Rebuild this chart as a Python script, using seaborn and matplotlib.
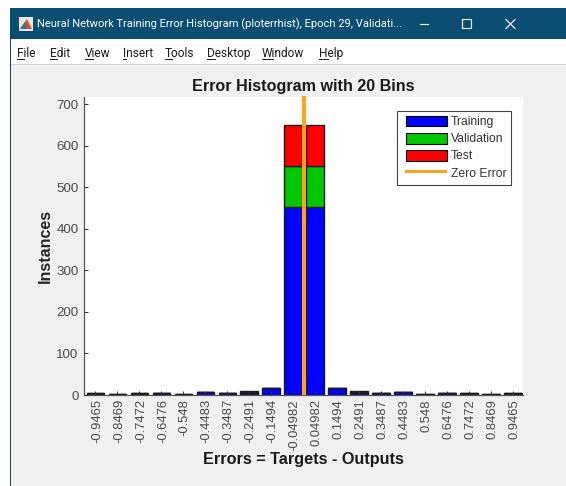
import numpy as np
import pandas as pd
import matplotlib as mpl
import matplotlib.pyplot as plt
from matplotlib.patches import Rectangle, Polygon
from matplotlib.legend_handler import HandlerPatch
from matplotlib.transforms import ScaledTranslation
import seaborn as sns

tick_labels = ['-0.9465', '-0.8469', '-0.7472', '-0.6476', '-0.548', '-0.4483', '-0.3487',
               '-0.2491', '-0.1494', '-0.04982', '0.04982', '0.1494', '0.2491', '0.3487',
               '0.4483', '0.548', '0.6476', '0.7472', '0.8469', '0.9465']
training = [3, 1, 3, 5, 1, 8, 6, 4, 18, 452, 452, 18, 4, 6, 8, 1, 5, 3, 1, 3]
validation = [2, 1, 2, 0, 1, 0, 0, 3, 0, 98, 98, 0, 3, 0, 0, 1, 0, 2, 1, 2]
test = [1, 0, 1, 0, 0, 0, 0, 3, 0, 100, 100, 0, 3, 0, 0, 0, 0, 1, 0, 1]
yticks = [0, 100, 200, 300, 400, 500, 600, 700]
menu_items = ['File', 'Edit', 'View', 'Insert', 'Tools', 'Desktop', 'Window', 'Help']
menu_x = [17, 50, 85, 123, 165, 207, 262, 319]

W, H = 566, 486
plt.rcParams['font.family'] = ['Liberation Sans', 'DejaVu Sans']
gray = '#4a4a4a'
orange = '#ffa31a'

fig = plt.figure(figsize=(W / 100, H / 100), dpi=100, facecolor='white')

# window chrome, in pixel coordinates
bg = fig.add_axes([0, 0, 1, 1], zorder=0)
bg.set_xlim(0, W)
bg.set_ylim(H, 0)
bg.axis('off')
bg.add_patch(Rectangle((10, 65), W - 10, H - 65, color='#f0f0f0', lw=0))
bg.add_patch(Rectangle((10, 8), W - 10, 31.5, color='#0a4f72', lw=0))
bg.add_patch(Rectangle((10, 64), W - 10, 1.2, color='#d4d4d4', lw=0))
bg.add_patch(Rectangle((10, 8), 1, H - 8, color='#0a4f72', lw=0))
bg.add_patch(Rectangle((19, 17), 14, 14, color='#e8e8e8', lw=0))
bg.add_patch(Polygon([[20, 29], [27, 19], [32, 29]], color='#d9541e', lw=0))
bg.add_patch(Polygon([[20, 29], [25, 22], [27, 29]], color='#3a6ea5', lw=0))
bg.text(37, 24, 'Neural Network Training Error Histogram (ploterrhist), Epoch 29, Validati...',
        color='white', fontsize=8.0, family='Roboto', va='center', ha='left')
bg.plot([420, 428], [24, 24], color='white', lw=0.8)
bg.add_patch(Rectangle((462, 19.5), 9, 9, fill=False, ec='white', lw=0.8))
bg.plot([506, 515], [19.5, 28.5], color='white', lw=0.8)
bg.plot([506, 515], [28.5, 19.5], color='white', lw=0.8)
renderer = fig.canvas.get_renderer()
for name, mx in zip(menu_items, menu_x):
    first = bg.text(mx, 57, name[0], fontsize=8.6, family='Roboto')
    w0 = first.get_window_extent(renderer).width
    first.remove()
    bg.text(mx, 57, name, color='#1a1a1a', fontsize=8.6, family='Roboto', va='baseline', ha='left')
    bg.plot([mx, mx + w0], [59.5, 59.5], color='#1a1a1a', lw=0.7)

# histogram axes
ax = fig.add_axes([84 / W, 1 - 395 / H, (523 - 84) / W, (395 - 97) / H], zorder=1)
df = pd.DataFrame({
    'bin': np.tile(np.arange(len(tick_labels)), 3),
    'count': training + validation + test,
    'split': ['Training'] * 20 + ['Validation'] * 20 + ['Test'] * 20,
})
colors = {'Training': '#0000ff', 'Validation': '#00c800', 'Test': '#ff0000'}
sns.histplot(data=df, x='bin', weights='count', hue='split', hue_order=['Test', 'Validation', 'Training'],
             multiple='stack', discrete=True, shrink=0.8, palette=colors, alpha=1,
             edgecolor='#1a1a1a', linewidth=1.0, legend=False, ax=ax)
ax.axvline(9.5, color=orange, lw=2.9, ymax=1.003, clip_on=False, zorder=5, solid_capstyle='butt')

ax.set_xlim(-0.523, 19.46)
ax.set_ylim(0, 717)
ax.set_xticks(np.arange(20))
ax.set_xticklabels(tick_labels, rotation=90, fontsize=9.4, color=gray)
ax.set_yticks(yticks)
ax.set_yticklabels(yticks, fontsize=9.6, color=gray)
ax.tick_params(axis='x', direction='in', length=3, width=0.7, color='#333333', pad=3)
ax.tick_params(axis='y', direction='in', length=3, width=0.7, color='#333333', pad=4)
shift = ScaledTranslation(1.5 / 72 * 0.72, 0, fig.dpi_scale_trans)
for lab in ax.get_xticklabels():
    lab.set_transform(lab.get_transform() + shift)
ax.set_axisbelow(False)
sns.despine(ax=ax)
for side in ['left', 'bottom']:
    ax.spines[side].set_color('#555555')
    ax.spines[side].set_linewidth(0.9)
ax.set_title('Error Histogram with 20 Bins', fontsize=11.6, fontweight='bold', color='#1a1a1a', pad=4.5)
ax.set_xlabel('Errors = Targets - Outputs', fontsize=11.7, fontweight='bold', color='#1a1a1a', labelpad=1)
ax.set_ylabel('Instances', fontsize=11.5, fontweight='bold', color='#262626', labelpad=2.5)


def inset_patch(legend, orig_handle, xdescent, ydescent, width, height, fontsize):
    if orig_handle.get_label() == 'line':
        return Rectangle((2, height / 2 - 1), width - 2, 2, fc=orange, lw=0)
    return Rectangle((3, -ydescent), width - 3, height, fc=orig_handle.get_facecolor(), ec='black', lw=0.8)


handles = [Rectangle((0, 0), 1, 1, fc=colors[k], ec='black', lw=0.8) for k in ['Training', 'Validation', 'Test']]
handles.append(Rectangle((0, 0), 1, 1, fc=orange, label='line'))
leg = ax.legend(handles, ['Training', 'Validation', 'Test', 'Zero Error'], loc='upper left',
                bbox_to_anchor=((397 - 84) / 439, (395 - 110.5) / 298), borderaxespad=0,
                fontsize=8.7, frameon=True, fancybox=False, framealpha=1, edgecolor='#444444',
                labelspacing=0.38, handlelength=3.7, handleheight=1.0, handletextpad=0.33,
                borderpad=0.42, labelcolor='#333333',
                handler_map={Rectangle: HandlerPatch(patch_func=inset_patch)})
leg.get_frame().set_linewidth(0.8)

fig.savefig('out.png', dpi=100, facecolor='white')
